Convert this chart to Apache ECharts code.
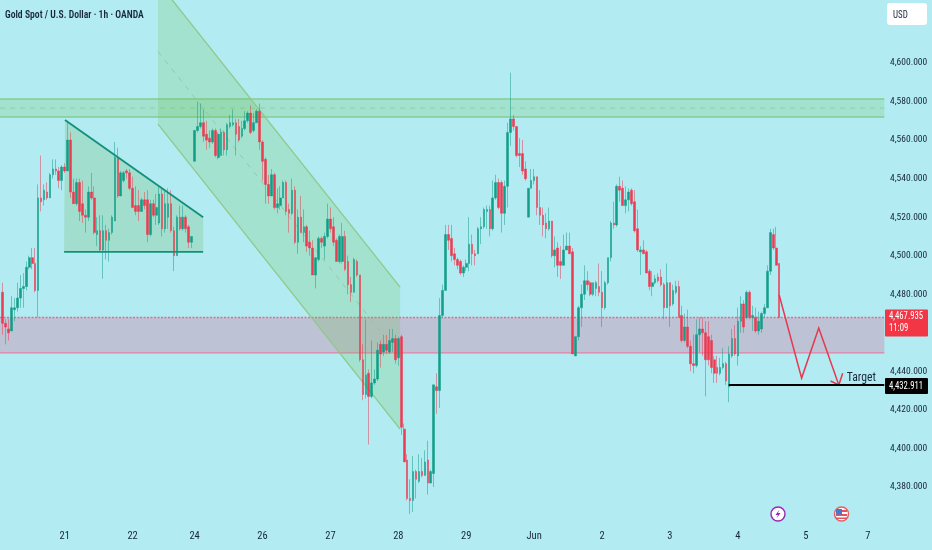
<!DOCTYPE html>
<html><head><meta charset="utf-8">
<style>html,body{margin:0;padding:0;background:#b2ebf2}#c{width:932px;height:550px}</style>
<script src="https://cdn.jsdelivr.net/npm/echarts@6/dist/echarts.min.js"></script>
</head><body><div id="c"></div>
<script>
const titleText = 'Gold Spot / U.S. Dollar · 1h · OANDA';
const categoryCount = 299;
const dayTickIndex = [21,44,65,88,111,134,157,180,203,226,249,272,293];
const dayTickLabel = ['21','22','24','26','27','28','29','Jun','2','3','4','5','7'];
const hiddenPriceTicks = [4360,4460,4620,4640];
// [open, close, low, high]
const ohlc = [
[4481,4465,4459,4486],[4465,4463,4454,4467],[4462,4460,4456,4467],[4461,4473,4461,4479],[4472,4473,4466,4478],[4473,4478,4471,4486],[4478,4483,4473,4490],[4483,4484,4473,4491],[4484,4494,4482,4497],[4494,4499,4493,4500],
[4499,4496,4493,4504],[4496,4482,4481,4504],[4482,4530,4468,4537],[4530,4528,4523,4552],[4529,4534,4526,4537],[4533,4530,4529,4538],[4530,4542,4530,4543],[4542,4545,4540,4550],[4545,4544,4542,4550],[4544,4539,4535,4546],
[4539,4546,4534,4547],[4546,4544,4543,4548],[4544,4560,4544,4570],[4560,4533,4530,4564],[4533,4527,4527,4540],[4527,4538,4526,4540],[4538,4523,4518,4540],[4527,4521,4517,4539],[4521,4520,4512,4524],[4520,4533,4518,4536],
[4533,4530,4529,4543],[4530,4512,4511,4536],[4511,4513,4505,4520],[4513,4503,4502,4521],[4503,4513,4488,4521],[4513,4508,4498,4516],[4508,4512,4497,4514],[4512,4520,4511,4521],[4518,4551,4518,4559],[4551,4531,4530,4556],
[4531,4543,4531,4544],[4539,4543,4538,4544],[4544,4543,4540,4545],[4543,4535,4534,4545],[4535,4525,4525,4541],[4526,4523,4521,4536],[4526,4523,4518,4534],[4523,4529,4523,4530],[4529,4526,4524,4533],[4529,4511,4507,4534],
[4511,4527,4510,4529],[4527,4521,4520,4529],[4521,4525,4516,4532],[4517,4532,4516,4536],[4532,4514,4510,4535],[4514,4527,4512,4534],[4520,4527,4514,4535],[4527,4513,4512,4534],[4513,4500,4492,4515],[4500,4520,4500,4521],
[4520,4514,4513,4526],[4514,4520,4513,4526],[4520,4514,4512,4521],[4515,4507,4504,4516],[4507,4510,4504,4510],[4549,4565,4549,4565],[4565,4567,4564,4580],[4567,4569,4566,4579],[4569,4562,4559,4576],[4563,4560,4555,4570],
[4561,4559,4556,4565],[4559,4565,4558,4566],[4565,4552,4551,4566],[4551,4563,4550,4564],[4552,4564,4552,4566],[4564,4555,4552,4565],[4555,4568,4552,4569],[4567,4569,4566,4573],[4568,4569,4567,4576],[4569,4563,4552,4571],
[4567,4560,4559,4571],[4562,4566,4561,4570],[4566,4570,4565,4575],[4570,4574,4569,4575],[4574,4564,4563,4578],[4565,4569,4564,4574],[4569,4575,4569,4576],[4575,4559,4555,4579],[4559,4549,4539,4560],[4550,4537,4527,4551],
[4537,4531,4527,4542],[4531,4542,4531,4545],[4542,4525,4524,4543],[4525,4527,4522,4535],[4526,4530,4524,4536],[4530,4538,4530,4539],[4538,4523,4521,4539],[4524,4522,4512,4527],[4522,4534,4521,4540],[4534,4507,4506,4536],
[4507,4520,4501,4524],[4520,4512,4512,4531],[4512,4515,4507,4524],[4515,4505,4502,4516],[4507,4504,4500,4513],[4504,4490,4490,4508],[4490,4499,4483,4499],[4498,4509,4497,4510],[4509,4507,4504,4510],[4505,4510,4498,4512],
[4510,4519,4509,4527],[4519,4514,4512,4525],[4515,4507,4505,4520],[4508,4497,4497,4509],[4497,4510,4496,4511],[4497,4510,4496,4517],[4510,4493,4492,4513],[4497,4485,4480,4500],[4485,4481,4476,4489],[4481,4498,4481,4499],
[4497,4490,4489,4498],[4490,4446,4445,4490],[4446,4428,4425,4454],[4428,4438,4426,4467],[4439,4427,4402,4441],[4427,4434,4426,4456],[4434,4436,4433,4441],[4436,4451,4435,4455],[4454,4449,4442,4456],[4450,4454,4448,4459],
[4454,4451,4449,4459],[4450,4456,4449,4462],[4455,4457,4450,4462],[4457,4446,4444,4459],[4447,4457,4443,4458],[4458,4411,4407,4459],[4410,4393,4393,4413],[4394,4374,4373,4397],[4374,4373,4366,4384],[4373,4388,4367,4396],
[4388,4384,4374,4389],[4383,4388,4382,4397],[4388,4386,4385,4395],[4386,4393,4386,4399],[4394,4382,4376,4404],[4382,4388,4382,4389],[4387,4433,4380,4433],[4432,4430,4418,4439],[4430,4469,4421,4478],[4469,4482,4468,4485],
[4482,4511,4482,4516],[4511,4508,4503,4516],[4509,4500,4497,4516],[4501,4498,4495,4504],[4498,4495,4493,4499],[4497,4491,4490,4498],[4491,4494,4489,4495],[4494,4496,4492,4498],[4496,4506,4492,4520],[4506,4501,4495,4511],
[4501,4500,4495,4503],[4501,4514,4501,4515],[4514,4515,4506,4520],[4515,4524,4514,4525],[4523,4524,4514,4526],[4524,4514,4510,4526],[4514,4530,4513,4539],[4530,4538,4529,4542],[4538,4525,4524,4540],[4538,4522,4512,4539],
[4522,4536,4516,4539],[4536,4564,4525,4569],[4564,4571,4557,4595],[4571,4567,4565,4573],[4567,4552,4551,4567],[4553,4552,4546,4561],[4553,4544,4542,4560],[4545,4540,4539,4549],[4520,4535,4520,4535],[4535,4539,4535,4545],
[4539,4541,4537,4545],[4541,4525,4521,4541],[4525,4521,4516,4534],[4521,4516,4510,4525],[4517,4514,4509,4522],[4514,4518,4513,4525],[4518,4500,4499,4518],[4500,4503,4494,4510],[4504,4495,4489,4507],[4497,4495,4488,4505],
[4495,4503,4495,4511],[4503,4505,4503,4512],[4505,4501,4501,4512],[4502,4449,4449,4504],[4448,4458,4448,4458],[4458,4473,4456,4474],[4473,4480,4463,4485],[4480,4487,4477,4495],[4487,4485,4482,4492],[4486,4480,4479,4487],
[4480,4486,4479,4486],[4483,4486,4479,4487],[4484,4481,4479,4496],[4481,4473,4463,4492],[4473,4486,4472,4487],[4486,4499,4485,4499],[4499,4517,4497,4518],[4517,4516,4514,4528],[4516,4536,4515,4537],[4536,4534,4528,4541],
[4535,4526,4526,4539],[4526,4529,4522,4536],[4529,4533,4523,4535],[4534,4527,4526,4535],[4528,4513,4512,4534],[4514,4503,4502,4524],[4502,4503,4490,4505],[4503,4501,4501,4508],[4502,4491,4491,4503],[4492,4484,4482,4493],
[4484,4486,4479,4492],[4486,4488,4485,4490],[4489,4487,4486,4491],[4489,4485,4484,4493],[4485,4473,4467,4486],[4473,4486,4473,4496],[4486,4474,4463,4486],[4475,4482,4474,4485],[4481,4484,4480,4487],[4484,4468,4468,4487],
[4469,4456,4455,4474],[4456,4463,4455,4470],[4463,4453,4452,4472],[4453,4444,4440,4456],[4444,4443,4439,4459],[4443,4459,4442,4467],[4459,4462,4450,4468],[4462,4460,4448,4468],[4460,4446,4427,4466],[4458,4446,4443,4466],
[4456,4442,4439,4459],[4446,4439,4434,4448],[4442,4439,4434,4448],[4439,4442,4438,4447],[4442,4444,4441,4452],[4444,4435,4433,4445],[4432,4449,4424,4453],[4448,4457,4447,4462],[4457,4449,4448,4464],[4448,4466,4443,4473],
[4466,4475,4460,4479],[4475,4463,4460,4477],[4468,4481,4467,4482],[4481,4468,4467,4482],[4468,4469,4461,4474],[4468,4461,4460,4473],[4461,4466,4459,4471],[4462,4470,4460,4471],[4470,4473,4468,4475],[4473,4492,4473,4495],
[4492,4512,4490,4514],[4511,4504,4503,4514],[4504,4495,4495,4515],[4496,4467.935,4467.935,4496]
];
// overlay geometry in chart coordinates: [bar index, price]
const supplyZone = [4581.3, 4572, 4576.6];
const demandZone = [4467.935, 4449.6];
const trianglePts = [[21.1,4570.4],[67.9,4520],[67.9,4502],[20.8,4502]];
const channelPts = [[52.6,4642],[134.6,4483.7],[134.6,4410],[52.6,4568.3]];
const channelMid = [[52.6,4606],[134.6,4448]];
const forecastPath = [[263,4479.6],[270.6,4436.5],[276.4,4462.5],[283.2,4432.9]];
const arrowHead = [[280.4,4435],[283.2,4432.9],[284.5,4439]];
const targetLine = [[245.9,4432.911],[298.6,4432.911]];
const targetLabel = {text:'Target', at:[285.9,4436.6]};
const lastPriceTag = {price:'4,467.935', clock:'11:09', value:4467.935};
const targetTag = {price:'4,432.911', value:4432.911};

const NARROW = '"Roboto Condensed","Liberation Sans Narrow",Roboto,sans-serif';
const INK = '#17263a';
const RED = '#ef3349', GREEN = '#0a9a83';
const left = -0.9, right = 298.6;
const SQUEEZE = 0.83;

const chart = echarts.init(document.getElementById('c'));
const poly = (api,pts,fill)=>({type:'polygon',silent:true,shape:{points:pts.map(p=>api.coord(p))},style:{fill:fill,stroke:'none'}});
const line = (api,pts,stroke,w,dash)=>({type:'polyline',silent:true,shape:{points:pts.map(p=>api.coord(p))},style:{fill:'none',stroke:stroke,lineWidth:w,lineDash:dash||null}});
const tagText = (x,y,text)=>({type:'text',silent:true,x:x,y:y,scaleX:SQUEEZE,style:{text:text,font:'10.5px '+NARROW,fill:'#fff',verticalAlign:'middle'}});

function renderUnder(params, api){
  return {type:'group',children:[
    poly(api,[[left,supplyZone[0]],[right,supplyZone[0]],[right,supplyZone[1]],[left,supplyZone[1]]],'rgba(100,190,70,0.2)'),
    line(api,[[left,supplyZone[0]],[right,supplyZone[0]]],'#85cc94',1.6),
    line(api,[[left,supplyZone[1]],[right,supplyZone[1]]],'#85cc94',1.6),
    line(api,[[left,supplyZone[2]],[right,supplyZone[2]]],'#8dc6a4',0.8,[5,5]),
    poly(api,[[left,demandZone[0]],[right,demandZone[0]],[right,demandZone[1]],[left,demandZone[1]]],'rgba(233,30,99,0.2)'),
    line(api,[[left,demandZone[0]],[right,demandZone[0]]],'#e8688f',1.6,[2,1.5]),
    line(api,[[left,demandZone[1]],[right,demandZone[1]]],'#e67fa6',1.4),
    poly(api,channelPts,'rgba(100,190,70,0.2)'),
    line(api,[channelPts[0],channelPts[1]],'#8fc98a',1.3),
    line(api,[channelPts[3],channelPts[2]],'#8fc98a',1.3),
    line(api,channelMid,'#93bfa0',0.8,[5,6]),
    poly(api,trianglePts,'rgba(100,170,60,0.2)')
  ]};
}
function renderOver(params, api){
  const a = api.coord([0,lastPriceTag.value]), b = api.coord([0,targetTag.value]);
  const t = api.coord(targetLabel.at);
  return {type:'group',children:[
    line(api,[trianglePts[0],trianglePts[1]],'#11907c',1.8),
    line(api,[trianglePts[3],trianglePts[2]],'#11907c',1.8),
    line(api,forecastPath,'#e6394f',1.5),
    line(api,arrowHead,'#e6394f',1.5),
    line(api,targetLine,'#000',2),
    {type:'text',silent:true,x:t[0],y:t[1],scaleX:0.9,style:{text:targetLabel.text,font:'13px '+NARROW,fill:'#1b2b3a',verticalAlign:'middle'}},
    {type:'rect',silent:true,shape:{x:885,y:a[1]-8,width:43,height:27,r:1},style:{fill:'#f23645'}},
    tagText(889,a[1]-1,lastPriceTag.price),
    tagText(889,a[1]+11,lastPriceTag.clock),
    {type:'rect',silent:true,shape:{x:885,y:b[1]-7,width:43,height:16,r:1},style:{fill:'#000'}},
    tagText(889,b[1]+1,targetTag.price)
  ]};
}

chart.setOption({
  animation:false,
  backgroundColor:'#b2ebf2',
  grid:{left:1.2,width:882.8,top:-14.08,height:539.6,containLabel:false,outerBoundsMode:'none'},
  xAxis:[{
    type:'category',data:Array.from({length:categoryCount},(_,i)=>String(i)),
    axisLine:{show:false},axisTick:{show:false},splitLine:{show:false},
    axisLabel:{interval:0,margin:5,color:INK,fontSize:10.5,fontFamily:NARROW,
      formatter:(v,i)=>{const k=dayTickIndex.indexOf(i);return k<0?'':dayTickLabel[k];}}
  },{type:'value',show:false,min:-0.5,max:categoryCount-0.5,position:'top'}],
  yAxis:{type:'value',position:'right',min:4360,max:4640,interval:20,scale:true,
    axisLine:{show:false},axisTick:{show:false},splitLine:{show:false},
    axisLabel:{margin:6,color:INK,fontSize:9.5,fontFamily:NARROW,
      formatter:v=>hiddenPriceTicks.includes(v)?'':v.toLocaleString('en-US',{minimumFractionDigits:3,maximumFractionDigits:3})}},
  series:[
    {type:'custom',xAxisIndex:1,yAxisIndex:0,z:1,clip:false,silent:true,data:[[0,4500]],renderItem:renderUnder},
    {type:'candlestick',xAxisIndex:0,yAxisIndex:0,z:2,barWidth:2.1,data:ohlc,
      itemStyle:{color:GREEN,color0:RED,borderColor:GREEN,borderColor0:RED,borderWidth:0.5,opacity:0.95}},
    {type:'custom',xAxisIndex:1,yAxisIndex:0,z:3,clip:false,silent:true,data:[[0,4500]],renderItem:renderOver}
  ],
  graphic:[
    {type:'text',x:5,y:15,scaleX:0.84,style:{text:titleText,font:'600 11.5px '+NARROW,fill:'#17263a',verticalAlign:'middle'}},
    {type:'rect',shape:{x:887,y:3,width:40,height:22,r:3},style:{fill:'#fff'}},
    {type:'text',x:893,y:15,scaleX:0.85,style:{text:'USD',font:'10.5px '+NARROW,fill:'#17263a',verticalAlign:'middle'}},
    {type:'circle',shape:{cx:778,cy:514,r:7},style:{fill:'#fff',stroke:'#9c27b0',lineWidth:1.4}},
    {type:'polygon',shape:{points:[[779.5,509.5],[775.5,515],[778,515],[776.5,518.5],[780.5,513],[778,513]]},style:{fill:'#9c27b0'}},
    {type:'circle',shape:{cx:841.5,cy:514,r:7},style:{fill:'#fff',stroke:'#ea5b62',lineWidth:1.4}},
    {type:'rect',shape:{x:836,y:510,width:11,height:2},style:{fill:'#e8505b'}},
    {type:'rect',shape:{x:836,y:514,width:11,height:2},style:{fill:'#e8505b'}},
    {type:'rect',shape:{x:836,y:517.5,width:11,height:1.5},style:{fill:'#e8505b'}},
    {type:'rect',shape:{x:836,y:509,width:6,height:5.5},style:{fill:'#4a78c8'}}
  ]
});
</script></body></html>
